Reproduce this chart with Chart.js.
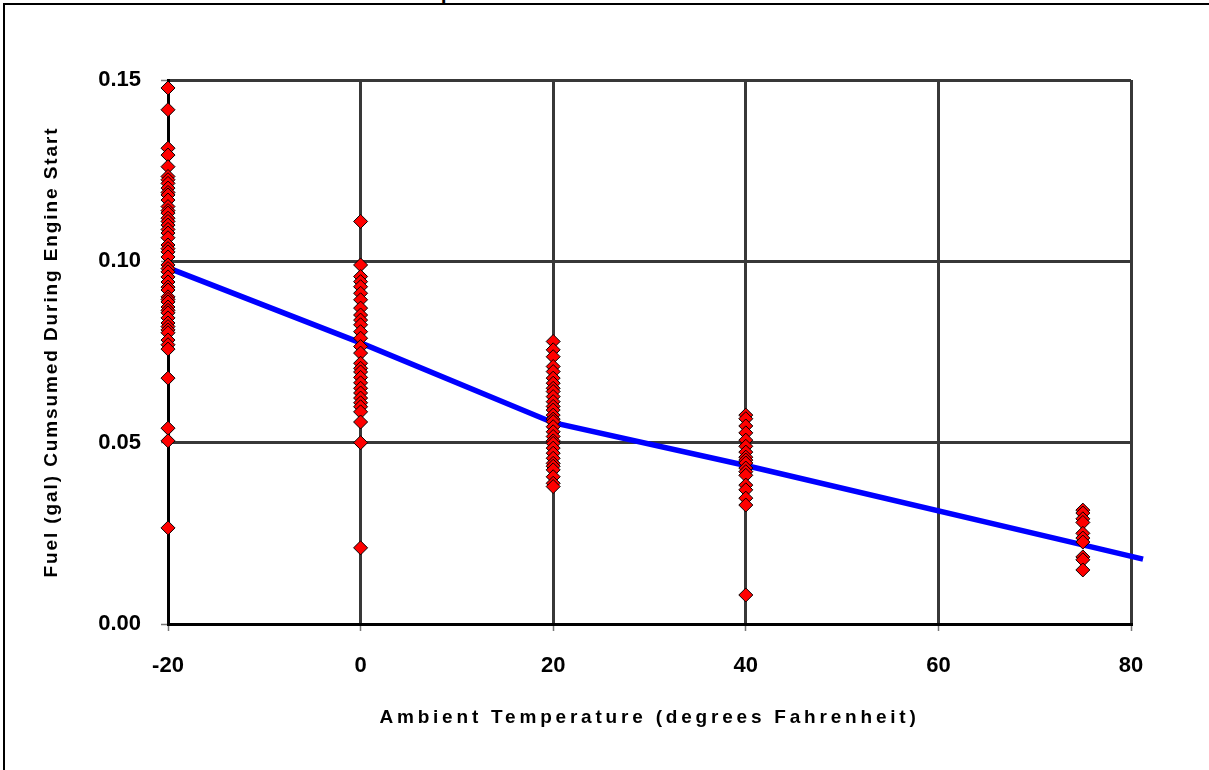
<!DOCTYPE html>
<html>
<head>
<meta charset="utf-8">
<title>Fuel Consumed During Engine Start</title>
<script src="https://cdn.jsdelivr.net/npm/chart.js@4.4.1/dist/chart.umd.min.js"></script>
<style>
  html, body { margin: 0; padding: 0; background: #fff; overflow: hidden; }
  #wrap { position: relative; width: 1209px; height: 770px; overflow: hidden; background: #fff; }
  .edge { position: absolute; background: #000; }
  #edgeTop { left: 3px; top: 3px; width: 1206px; height: 2px; }
  #edgeLeft { left: 3px; top: 3px; width: 2px; height: 767px; }
  #caption { position: absolute; top: -18px; left: 0; width: 1209px; height: 24px;
             font: bold 20px "Liberation Serif", "Times New Roman", serif; line-height: 20px;
             color: #000; white-space: nowrap; }
  #caption .a { position: absolute; right: 768px; }
  #caption .b { position: absolute; left: 441px; }
  canvas { position: absolute; left: 0; top: 0; }
</style>
</head>
<body>
<div id="wrap">
  <div id="caption"><span class="a">Effect of Ambient Tem</span><span class="b">perature</span></div>
  <div class="edge" id="edgeTop"></div>
  <div class="edge" id="edgeLeft"></div>
  <canvas id="chart" width="1209" height="770"></canvas>
</div>
<script>
// Test temperatures (°F) at which engine starts were measured
const tempSteps = [-20, 0, 20, 40, 75];

// Fuel (gal) consumed per start, one list per test temperature
const fuelAtMinus20F = [0.1478, 0.1418, 0.1312, 0.1293, 0.1261, 0.1234, 0.1225, 0.1215, 0.1202,
  0.1190, 0.1183, 0.1169, 0.1151, 0.1140, 0.1133, 0.1119, 0.1110, 0.1100, 0.1088, 0.1078, 0.1065,
  0.1045, 0.1035, 0.1026, 0.1012, 0.0990, 0.0980, 0.0971, 0.0957, 0.0943, 0.0929, 0.0921, 0.0902,
  0.0895, 0.0888, 0.0874, 0.0865, 0.0858, 0.0844, 0.0830, 0.0820, 0.0811, 0.0803, 0.0783, 0.0770,
  0.0758, 0.0678, 0.0540, 0.0505, 0.0265];
const fuelAt0F = [0.1110, 0.0990, 0.0958, 0.0944, 0.0930, 0.0912, 0.0894, 0.0871, 0.0852, 0.0838,
  0.0825, 0.0806, 0.0788, 0.0765, 0.0747, 0.0719, 0.0705, 0.0695, 0.0680, 0.0665, 0.0650, 0.0637,
  0.0623, 0.0610, 0.0599, 0.0585, 0.0557, 0.0500, 0.0210];
const fuelAt20F = [0.0779, 0.0756, 0.0737, 0.0710, 0.0696, 0.0678, 0.0664, 0.0650, 0.0641, 0.0627,
  0.0613, 0.0600, 0.0590, 0.0576, 0.0565, 0.0558, 0.0544, 0.0530, 0.0517, 0.0505, 0.0498, 0.0485,
  0.0471, 0.0457, 0.0443, 0.0435, 0.0425, 0.0406, 0.0388, 0.0379];
const fuelAt40F = [0.0576, 0.0566, 0.0546, 0.0527, 0.0507, 0.0490, 0.0474, 0.0460, 0.0452, 0.0444,
  0.0430, 0.0420, 0.0410, 0.0383, 0.0370, 0.0347, 0.0328, 0.0080];
const fuelAt75F = [0.0314, 0.0306, 0.0290, 0.0280, 0.0250, 0.0237, 0.0226, 0.0185, 0.0177, 0.0149];

// Trend of fuel use with temperature
const trendTemps = [-20, 0, 20, 40, 75, 81.25];
const trendFuel = [0.0982, 0.0775, 0.0555, 0.0437, 0.0218, 0.0179];

// Axis tick values
const xTickValues = [-20, 0, 20, 40, 60, 80];
const yTickValues = [0, 0.05, 0.10, 0.15];

const fuelGroups = [fuelAtMinus20F, fuelAt0F, fuelAt20F, fuelAt40F, fuelAt75F];
const startPoints = fuelGroups.flatMap((vals, i) => vals.map(v => ({ x: tempSteps[i], y: v })));
const trendPoints = trendTemps.map((t, i) => ({ x: t, y: trendFuel[i] }));

// Axis titles are drawn with a little extra letter spacing
function spaceTitle(scale, spacing) {
  if (scale.$spaced) return;
  scale.$spaced = true;
  const draw = scale.drawTitle;
  scale.drawTitle = function () {
    const c = this.ctx;
    c.save();
    c.letterSpacing = spacing;
    draw.call(this);
    c.restore();
  };
}

const tickFont = { family: '"Liberation Sans", Arial, sans-serif', size: 22, weight: 'bold' };
const titleFont = { family: '"Liberation Sans", Arial, sans-serif', size: 19, weight: 'bold' };
const gridStyle = { color: '#383838', lineWidth: 3, tickLength: 7, tickColor: '#777', tickWidth: 1.5 };

new Chart(document.getElementById('chart'), {
  type: 'scatter',
  data: {
    datasets: [
      {
        label: 'Engine starts',
        data: startPoints,
        pointStyle: 'rectRot',
        pointRadius: 7,
        pointHoverRadius: 7,
        backgroundColor: '#ff0000',
        borderColor: '#000',
        borderWidth: 1,
        clip: false,
        order: 0
      },
      {
        type: 'line',
        label: 'Trend',
        data: trendPoints,
        borderColor: '#0000ff',
        borderWidth: 5.5,
        pointRadius: 0,
        fill: false,
        tension: 0,
        clip: false,
        order: 1
      }
    ]
  },
  options: {
    responsive: false,
    animation: false,
    devicePixelRatio: 1,
    layout: { padding: { left: 0, top: 80, right: 78, bottom: 0 } },
    plugins: { legend: { display: false }, tooltip: { enabled: false } },
    scales: {
      x: {
        type: 'linear',
        min: -20,
        max: 80,
        afterBuildTicks: s => { s.ticks = xTickValues.map(v => ({ value: v })); },
        afterFit: s => { s.height = 146; spaceTitle(s, '3.8px'); },
        grid: gridStyle,
        border: { color: '#000', width: 3 },
        ticks: { font: tickFont, color: '#000', padding: 22, maxRotation: 0 },
        title: {
          display: true,
          text: 'Ambient Temperature (degrees Fahrenheit)',
          font: titleFont,
          color: '#000',
          padding: { top: 0, bottom: 41 }
        }
      },
      y: {
        type: 'linear',
        min: 0,
        max: 0.15,
        afterBuildTicks: s => { s.ticks = yTickValues.map(v => ({ value: v })); },
        afterFit: s => { s.width = 168; spaceTitle(s, '1.9px'); },
        grid: gridStyle,
        border: { color: '#000', width: 3 },
        ticks: { font: tickFont, color: '#000', padding: 20, callback: v => v.toFixed(2) },
        title: {
          display: true,
          text: 'Fuel (gal) Cumsumed During Engine Start',
          font: titleFont,
          color: '#000',
          padding: { top: 40, bottom: 0 }
        }
      }
    }
  }
});
</script>
</body>
</html>
